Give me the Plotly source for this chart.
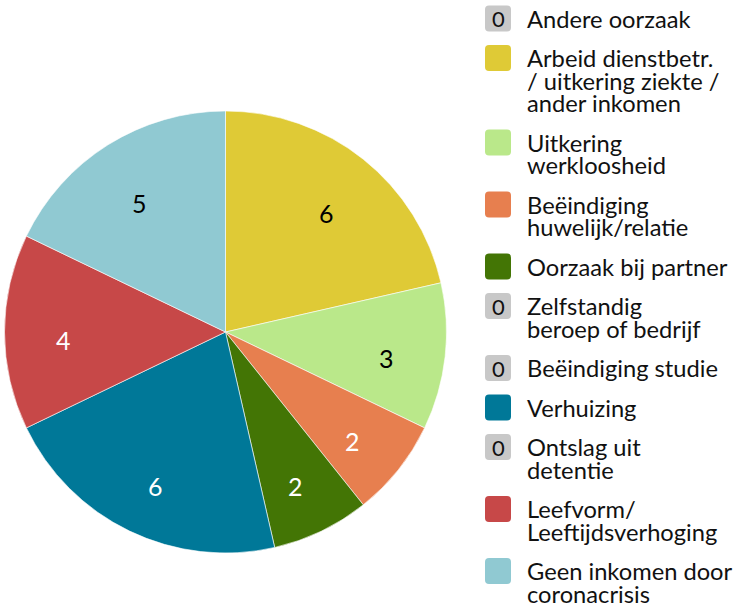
import math
import plotly.graph_objects as go

# ---- data ----
categories = [
    "Andere oorzaak",
    "Arbeid dienstbetr.<br>/ uitkering ziekte /<br>ander inkomen",
    "Uitkering<br>werkloosheid",
    "Beëindiging<br>huwelijk/relatie",
    "Oorzaak bij partner",
    "Zelfstandig<br>beroep of bedrijf",
    "Beëindiging studie",
    "Verhuizing",
    "Ontslag uit<br>detentie",
    "Leefvorm/<br>Leeftijdsverhoging",
    "Geen inkomen door<br>coronacrisis",
]
values = [0, 6, 3, 2, 2, 0, 0, 6, 0, 4, 5]
colors = ["#C8C8C8", "#DFCA36", "#BAE88A", "#E77F4F", "#437505", "#C8C8C8",
          "#C8C8C8", "#007898", "#C8C8C8", "#C74848", "#90C9D2"]
text_colors = ["#000000", "#000000", "#000000", "#FFFFFF", "#FFFFFF", "#000000",
               "#000000", "#FFFFFF", "#000000", "#FFFFFF", "#000000"]

W, H = 737, 611
FONT = "Lato, 'Noto Sans', sans-serif"

# pie geometry (pixels)
cx, cy, R = 225.5, 332, 221

nz = [i for i, v in enumerate(values) if v > 0]

fig = go.Figure()
fig.add_trace(go.Pie(
    labels=[categories[i] for i in nz],
    values=[values[i] for i in nz],
    marker=dict(colors=[colors[i] for i in nz], line=dict(color="white", width=0.6)),
    sort=False,
    direction="clockwise",
    rotation=0,
    textinfo="none",
    hoverinfo="label+value",
    domain=dict(x=[(cx - R) / W, (cx + R) / W], y=[1 - (cy + R) / H, 1 - (cy - R) / H]),
    showlegend=False,
))

annotations = []
shapes = []

# value labels inside slices, placed on each slice's mid angle
total = sum(values)
cum = 0
label_r = 0.733 * R
for i in nz:
    mid = (cum + values[i] / 2) / total * 2 * math.pi
    cum += values[i]
    annotations.append(dict(
        x=cx + label_r * math.sin(mid), y=cy - label_r * math.cos(mid) + 8,
        xref="x", yref="y", text=str(values[i]), showarrow=False,
        xanchor="center", yanchor="middle",
        font=dict(family=FONT, size=25, color=text_colors[i])))

# ---- custom legend ----
line_h = 22.5
gap = 39.5
y = 18.5
sq = 26
x_sq = 485
x_txt = 526


def rounded_rect(x0, y0, x1, y1, r):
    return (f"M{x0+r},{y0} L{x1-r},{y0} Q{x1},{y0} {x1},{y0+r} "
            f"L{x1},{y1-r} Q{x1},{y1} {x1-r},{y1} L{x0+r},{y1} "
            f"Q{x0},{y1} {x0},{y1-r} L{x0},{y0+r} Q{x0},{y0} {x0+r},{y0} Z")


for i, cat in enumerate(categories):
    lines = cat.split("<br>")
    shapes.append(dict(type="path", xref="x", yref="y",
                       path=rounded_rect(x_sq, y - sq / 2, x_sq + sq, y + sq / 2, 4),
                       fillcolor=colors[i], line=dict(width=0), layer="above"))
    if values[i] == 0:
        annotations.append(dict(x=x_sq + sq / 2, y=y, xref="x", yref="y", text=str(values[i]),
                                showarrow=False, xanchor="center", yanchor="middle",
                                font=dict(family=FONT, size=22, color="#111111")))
    for j, ln in enumerate(lines):
        annotations.append(dict(x=x_txt, y=y + j * line_h, xref="x", yref="y", text=ln,
                                showarrow=False, xanchor="left", yanchor="middle",
                                borderpad=0,
                                font=dict(family=FONT, size=23.7, color="#111111")))
    y += (len(lines) - 1) * line_h + gap

fig.update_layout(
    width=W, height=H,
    margin=dict(l=0, r=0, t=0, b=0),
    paper_bgcolor="white", plot_bgcolor="rgba(0,0,0,0)",
    xaxis=dict(range=[0, W], visible=False, domain=[0, 1], fixedrange=True),
    yaxis=dict(range=[H, 0], visible=False, domain=[0, 1], fixedrange=True),
    shapes=shapes, annotations=annotations,
    font=dict(family=FONT),
)

fig.write_html("out.html", config={"displayModeBar": False},
               post_script="document.body.style.margin='0';document.body.style.overflow='hidden';")
